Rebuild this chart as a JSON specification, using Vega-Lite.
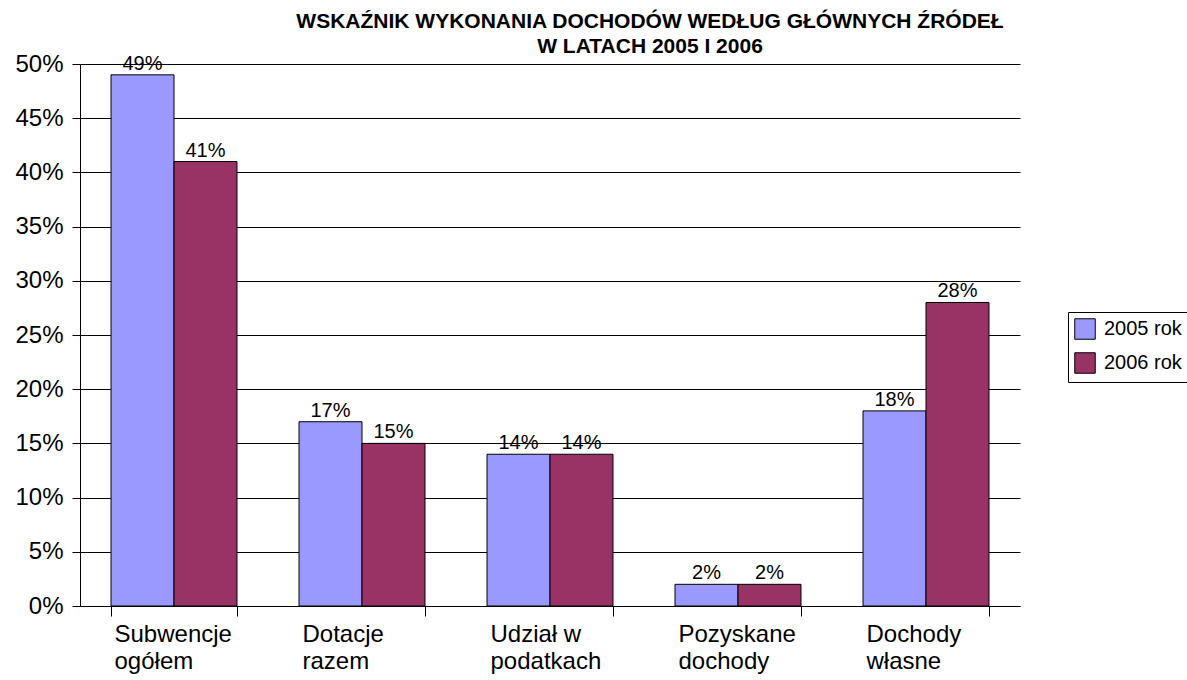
{
  "$schema": "https://vega.github.io/schema/vega-lite/v6.json",
  "autosize": {"type": "none"},
  "padding": {"left": 80, "top": 64, "right": 167, "bottom": 74},
  "width": 940,
  "height": 542,
  "background": "white",
  "config": {
    "font": "Liberation Sans",
    "view": {"stroke": null},
    "axis": {"labelFont": "Liberation Sans", "labelColor": "black"}
  },
  "title": {
    "text": ["WSKAŹNIK WYKONANIA DOCHODÓW WEDŁUG GŁÓWNYCH ŹRÓDEŁ", "W LATACH 2005 I 2006"],
    "font": "Liberation Sans",
    "fontSize": 21,
    "fontWeight": "bold",
    "color": "black",
    "anchor": "middle",
    "dx": 100,
    "offset": -5,
    "lineHeight": 25
  },
  "data": {
    "values": [
      {"kategoria": "Subwencje|ogółem", "rok": "2005 rok", "wartosc": 0.49},
      {"kategoria": "Subwencje|ogółem", "rok": "2006 rok", "wartosc": 0.41},
      {"kategoria": "Dotacje|razem", "rok": "2005 rok", "wartosc": 0.17},
      {"kategoria": "Dotacje|razem", "rok": "2006 rok", "wartosc": 0.15},
      {"kategoria": "Udział w|podatkach", "rok": "2005 rok", "wartosc": 0.14},
      {"kategoria": "Udział w|podatkach", "rok": "2006 rok", "wartosc": 0.14},
      {"kategoria": "Pozyskane|dochody", "rok": "2005 rok", "wartosc": 0.02},
      {"kategoria": "Pozyskane|dochody", "rok": "2006 rok", "wartosc": 0.02},
      {"kategoria": "Dochody|własne", "rok": "2005 rok", "wartosc": 0.18},
      {"kategoria": "Dochody|własne", "rok": "2006 rok", "wartosc": 0.28}
    ]
  },
  "encoding": {
    "x": {
      "field": "kategoria",
      "type": "nominal",
      "sort": null,
      "scale": {"paddingInner": 0.33, "paddingOuter": 0.165},
      "axis": {
        "title": null,
        "labelAngle": 0,
        "labelExpr": "split(datum.label, '|')",
        "labelFontSize": 24,
        "labelLineHeight": 27,
        "labelAlign": "left",
        "labelBaseline": "top",
        "labelOffset": -60,
        "labelPadding": 6,
        "tickBand": "extent",
        "tickSize": 10,
        "tickColor": "black",
        "domainColor": "black",
        "grid": false
      }
    },
    "xOffset": {"field": "rok", "type": "nominal", "scale": {"paddingInner": 0, "paddingOuter": 0}},
    "y": {
      "field": "wartosc",
      "type": "quantitative",
      "scale": {"domain": [0, 0.5], "nice": false},
      "axis": {
        "title": null,
        "format": ".0%",
        "values": [0, 0.05, 0.1, 0.15, 0.2, 0.25, 0.3, 0.35, 0.4, 0.45, 0.5],
        "labelFontSize": 24,
        "labelPadding": 9,
        "tickSize": 8,
        "tickColor": "black",
        "domainColor": "black",
        "gridColor": "black",
        "gridOpacity": 1,
        "gridWidth": 1
      }
    }
  },
  "layer": [
    {
      "mark": {"type": "bar", "stroke": "black", "strokeWidth": 1},
      "encoding": {
        "color": {
          "field": "rok",
          "type": "nominal",
          "scale": {"domain": ["2005 rok", "2006 rok"], "range": ["#9999FF", "#993366"]},
          "legend": {
            "title": null,
            "orient": "none",
            "legendX": 988,
            "legendY": 248,
            "symbolType": "square",
            "symbolSize": 420,
            "symbolStrokeColor": "black",
            "symbolStrokeWidth": 1,
            "symbolOpacity": 1,
            "labelFontSize": 20,
            "labelFont": "Liberation Sans",
            "labelColor": "black",
            "labelOffset": 8,
            "rowPadding": 8,
            "strokeColor": "black",
            "padding": 6,
            "fillColor": "white"
          }
        }
      }
    },
    {
      "mark": {"type": "text", "baseline": "bottom", "dy": -1, "fontSize": 20, "font": "Liberation Sans", "color": "black"},
      "encoding": {
        "text": {"field": "wartosc", "type": "quantitative", "format": ".0%"}
      }
    }
  ]
}
